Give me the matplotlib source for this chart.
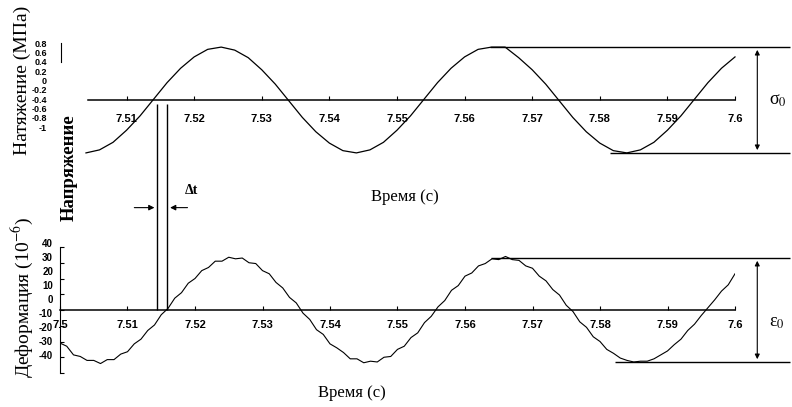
import numpy as np
import matplotlib
matplotlib.use("Agg")
import matplotlib.pyplot as plt

plt.rcParams["font.family"] = ["Liberation Serif", "DejaVu Serif"]
plt.rcParams["mathtext.fontset"] = "stix"

W, H = 792, 407

# напряжение (МПа), отсчёты через 0.002 с с 7.504 по 7.600
t_top = np.linspace(7.504, 7.600, 49)
stress = [-0.70, -0.66, -0.56, -0.40, -0.21, 0.01, 0.23, 0.42, 0.57, 0.67,
          0.70, 0.66, 0.56, 0.40, 0.21, -0.01, -0.23, -0.42, -0.57, -0.67,
          -0.70, -0.66, -0.56, -0.40, -0.21, 0.01, 0.23, 0.42, 0.57, 0.67,
          0.70, 0.70, 0.56, 0.40, 0.21, -0.01, -0.23, -0.42, -0.57, -0.67,
          -0.70, -0.66, -0.56, -0.40, -0.21, 0.01, 0.23, 0.42, 0.57]

# деформация (1e-6), отсчёты через 0.001 с с 7.500 по 7.600
t_bot = np.linspace(7.500, 7.600, 101)
strain = [-21, -23, -28.5, -29.5, -32, -32, -34, -31.5, -31.5, -28,
          -26.5, -21.5, -18.5, -13, -9.5, -3, 1, 7.5, 11, 17,
          20, 25, 27, 31, 31, 33.5, 32.5, 33, 30, 29.5,
          25, 23, 17.5, 14, 8, 4.5, -2, -6, -12.5, -15.5,
          -21.5, -24, -27, -31, -31, -33.5, -32.5, -33, -30, -29.5,
          -25, -23, -17.5, -14.5, -8, -4, 2, 6, 12.5, 15.5,
          21.5, 23.5, 28, 29.5, 32.5, 32, 34, 32, 31.5, 28,
          26.5, 21.5, 18.5, 13, 9.5, 3, -1, -7.5, -11, -17,
          -20, -25, -27.5, -30.5, -32, -33, -32.5, -32.5, -31, -28.5,
          -26, -22, -18.5, -13, -9, -3.5, 1.5, 6.5, 12, 16, 23]

x_ticks = [7.5, 7.51, 7.52, 7.53, 7.54, 7.55, 7.56, 7.57, 7.58, 7.59, 7.6]
x_labels = ["7.5", "7.51", "7.52", "7.53", "7.54", "7.55", "7.56", "7.57", "7.58", "7.59", "7.6"]
s_ticks = [-1, -0.8, -0.6, -0.4, -0.2, 0, 0.2, 0.4, 0.6, 0.8]
s_labels = ["-1", "-0.8", "-0.6", "-0.4", "-0.2", "0", "0.2", "0.4", "0.6", "0.8"]
e_ticks = [-40, -30, -20, -10, 0, 10, 20, 30, 40]

sigma0 = 0.7
eps0 = 33
t_shift = (7.5144, 7.5159)   # переходы через ноль, сдвиг фаз

tick_font = dict(family=["Liberation Sans Narrow", "Liberation Sans"], weight="bold")


def px(x0, y0, x1, y1):
    return [x0 / W, 1 - y1 / H, (x1 - x0) / W, (y1 - y0) / H]


fig = plt.figure(figsize=(W / 100, H / 100), dpi=100)

# верхний график: напряжение
ax1 = fig.add_axes(px(88, 35, 735, 165))
ax1.plot(t_top, stress, color="black", lw=0.9, clip_on=False)
ax1.set_xlim(7.5043, 7.6)
ax1.set_ylim(-0.86, 0.86)
for s in ["left", "right", "top"]:
    ax1.spines[s].set_visible(False)
ax1.spines["bottom"].set_position(("data", 0))
ax1.spines["bottom"].set_linewidth(1.1)
ax1.set_yticks([])
ax1.set_xticks(x_ticks[1:])
ax1.set_xticklabels(x_labels[1:], **tick_font)
ax1.tick_params(axis="x", direction="in", length=3, pad=10, labelsize=8)

# подписи шкалы напряжения
ax1b = fig.add_axes(px(61, 43, 62, 127))
ax1b.set_ylim(-1, 0.8)
for s in ["right", "top", "bottom"]:
    ax1b.spines[s].set_visible(False)
ax1b.spines["left"].set_bounds(0.4, 0.8)
ax1b.set_xticks([])
ax1b.set_yticks(s_ticks)
ax1b.set_yticklabels(s_labels, **tick_font)
ax1b.tick_params(axis="y", length=0, pad=10, labelsize=6.5)
ax1b.patch.set_visible(False)

# нижний график: деформация
ax2 = fig.add_axes(px(60, 247, 735, 373))
ax2.plot(t_bot, strain, color="black", lw=0.8)
ax2.set_xlim(7.5, 7.6)
ax2.set_ylim(-40, 40)
for s in ["right", "top"]:
    ax2.spines[s].set_visible(False)
ax2.spines["bottom"].set_position(("data", 0))
ax2.spines["bottom"].set_linewidth(1.1)
ax2.set_xticks(x_ticks)
ax2.set_xticklabels(x_labels, **tick_font)
ax2.tick_params(axis="x", direction="in", length=3, pad=7, labelsize=8)
ax2.set_yticks(e_ticks)
ax2.tick_params(axis="y", direction="in", length=3, labelleft=False)
ax2.patch.set_visible(False)

ax2b = fig.add_axes(px(60, 243, 61, 355))
ax2b.set_ylim(-40, 40)
for s in ax2b.spines.values():
    s.set_visible(False)
ax2b.set_xticks([])
ax2b.set_yticks(e_ticks)
ax2b.set_yticklabels([str(v) for v in e_ticks], **tick_font)
ax2b.tick_params(axis="y", length=0, pad=5, labelsize=7)
ax2b.patch.set_visible(False)

# сдвиг фаз dt
ax2.vlines(t_shift, 0, 131, color="black", lw=1.0, clip_on=False)
ax2.annotate("", xy=(t_shift[0], 65), xytext=(7.5106, 65), annotation_clip=False,
             arrowprops=dict(arrowstyle="-|>", color="black", lw=0.8, mutation_scale=8))
ax2.annotate("", xy=(t_shift[1], 65), xytext=(7.5193, 65), annotation_clip=False,
             arrowprops=dict(arrowstyle="-|>", color="black", lw=0.8, mutation_scale=8))
ax2.text(7.5185, 76, "Δt", fontsize=10, fontweight="bold", ha="left", va="center")

# амплитуды sigma0 и eps0
t_end = 7.6081
ax1.hlines(sigma0, 7.5638, t_end, color="black", lw=1.0, clip_on=False)
ax1.hlines(-sigma0, 7.5815, t_end, color="black", lw=1.0, clip_on=False)
ax1.annotate("", xy=(7.6033, sigma0), xytext=(7.6033, -sigma0), annotation_clip=False,
             arrowprops=dict(arrowstyle="<|-|>", color="black", lw=0.8, mutation_scale=7))
ax1.text(7.6051, 0, "σ$_0$", fontsize=13, ha="left", va="center")

ax2.hlines(eps0, 7.5638, t_end, color="black", lw=1.0, clip_on=False)
ax2.hlines(-eps0, 7.5822, t_end, color="black", lw=1.0, clip_on=False)
ax2.annotate("", xy=(7.6033, eps0), xytext=(7.6033, -eps0), annotation_clip=False,
             arrowprops=dict(arrowstyle="<|-|>", color="black", lw=0.8, mutation_scale=7))
ax2.text(7.6051, -8, "ε$_0$", fontsize=13, ha="left", va="center")

# подписи осей
fig.text(22 / W, 1 - 80 / H, "Натяжение (МПа)", rotation=90, ha="center", va="center", fontsize=14)
fig.text(22 / W, 1 - 298 / H, "Деформация (10$^{-6}$)", rotation=90, ha="center", va="center", fontsize=14)
fig.text(69 / W, 1 - 168 / H, "Напряжение", rotation=90, ha="center", va="center",
         fontsize=13.5, fontweight="bold")
fig.text(405 / W, 1 - 197 / H, "Время (с)", ha="center", va="center", fontsize=12)
fig.text(352 / W, 1 - 393 / H, "Время (с)", ha="center", va="center", fontsize=12)

fig.savefig("out.png", dpi=100)
